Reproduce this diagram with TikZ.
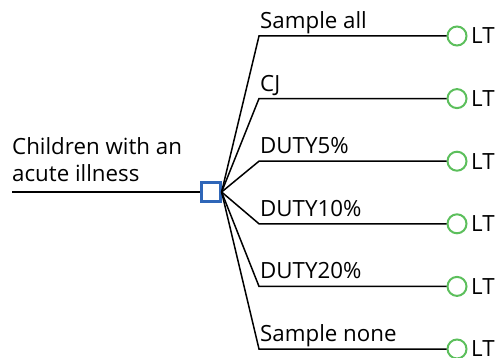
\documentclass[tikz,border=0pt]{standalone}
\usepackage{fontspec}
\setmainfont{Open Sans}
\definecolor{boxblue}{HTML}{2F66B8}
\definecolor{leafgreen}{HTML}{5CBF5C}
\begin{document}
\begin{tikzpicture}[x=1pt,y=-1pt,
  txt/.style={font=\fontsize{22.3}{26}\selectfont, inner sep=0pt},
  branch/.style={line width=1.5pt, black},
  decbox/.style={draw=boxblue, line width=2.2pt, minimum size=19pt, inner sep=0pt, fill=white},
  leaf/.style={circle, draw=leafgreen, line width=2pt, minimum size=19pt, inner sep=0pt}]
\useasboundingbox (0,0) rectangle (495,358);
\node[decbox] (d) at (211,192) {};
\coordinate (start) at (12,192);
\draw[branch] (start) -- (d.west);
\node[txt, anchor=base west] (t1) at (12,155) {Children with an};
\node[txt, anchor=base west] (t2) at (12,182) {acute illness};
\foreach \i/\y/\lab in {1/36/Sample all, 2/98.6/CJ, 3/161.2/DUTY5\%, 4/223.8/DUTY10\%, 5/286.4/DUTY20\%, 6/349/Sample none}{
  \coordinate (b\i) at (259,\y);
  \node[leaf] (c\i) at (457,\y) {};
  \node[txt, anchor=west] (lt\i) at (471,\y) {LT};
  \node[txt, anchor=base west] (l\i) at (260,\y-7.5) {\lab};
  \draw[branch] (d.east) -- (b\i) -- (c\i.west);
}
\end{tikzpicture}
\end{document}
